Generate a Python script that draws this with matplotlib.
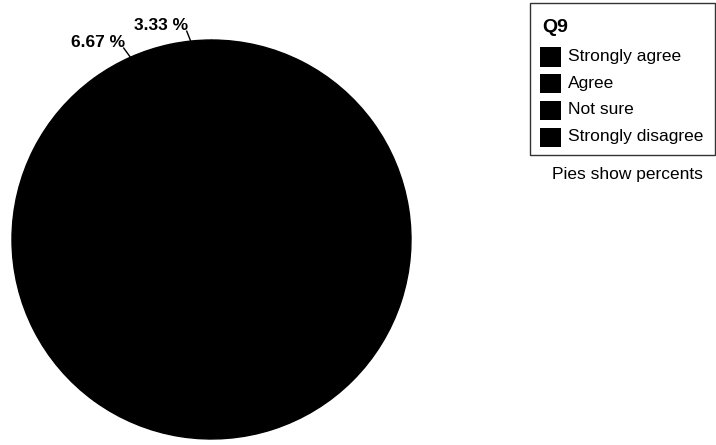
import matplotlib
matplotlib.use("Agg")
import matplotlib.pyplot as plt
from matplotlib.patches import Rectangle
import numpy as np

# Q9 responses (share of 30 respondents, in percent)
categories = ["Strongly agree", "Agree", "Not sure", "Strongly disagree"]
percents = [60.0, 30.0, 6.67, 3.33]
legend_title = "Q9"
note = "Pies show percents"

plt.rcParams["font.family"] = ["Liberation Sans", "DejaVu Sans"]

W, H = 716, 445
fig = plt.figure(figsize=(W / 100, H / 100), dpi=100)
fig.patch.set_facecolor("white")

# pie axes in pixel units: left 12, top 40, diameter ~399
left, top, size = 12, 40, 399
ax = fig.add_axes([left / W, (H - top - size) / H, size / W, size / H])
wedges, _ = ax.pie(percents, colors=["black"] * len(percents), startangle=90,
                   counterclock=False, radius=1.0,
                   wedgeprops=dict(linewidth=1.0, edgecolor="black"))
ax.set_xlim(-1.0, 1.0)
ax.set_ylim(-1.0, 1.0)
ax.set_aspect("equal")
ax.axis("off")

# outside labels for the thin slices, with short leader lines
for i, w in enumerate(wedges):
    if percents[i] >= 10:
        continue
    ang = np.deg2rad((w.theta1 + w.theta2) / 2)
    x0, y0 = np.cos(ang), np.sin(ang)
    x1, y1 = x0 * 1.045 - 0.015, y0 * 1.045 + 0.005
    ax.plot([x0, x1], [y0, y1], color="black", lw=1.0, clip_on=False)
    ax.text(x1 - 0.13, y1 + 0.028, f"{percents[i]:.2f} %", ha="center",
            va="center", fontsize=12.5, fontweight="bold", clip_on=False)

# legend box drawn in figure pixels
def fx(px):
    return px / W

def fy(py):
    return 1 - py / H

fig.patches.append(Rectangle((fx(530), fy(155)), (715 - 530) / W, (155 - 3) / H,
                             transform=fig.transFigure, facecolor="white",
                             edgecolor="#333333", linewidth=1.0))
fig.text(fx(542), fy(27), legend_title, fontsize=14, fontweight="bold",
         ha="left", va="center")
row_y = [57, 83.5, 110, 137]
for cat, yy in zip(categories, row_y):
    fig.patches.append(Rectangle((fx(540), fy(yy + 9.5)), 21 / W, 19 / H,
                                 transform=fig.transFigure, facecolor="black",
                                 edgecolor="black", linewidth=0))
    fig.text(fx(568), fy(yy), cat, fontsize=12.5, ha="left", va="center")

fig.text(fx(627), fy(174), note, fontsize=12.5, ha="center", va="center")

fig.savefig("out.png", dpi=100, facecolor="white")
